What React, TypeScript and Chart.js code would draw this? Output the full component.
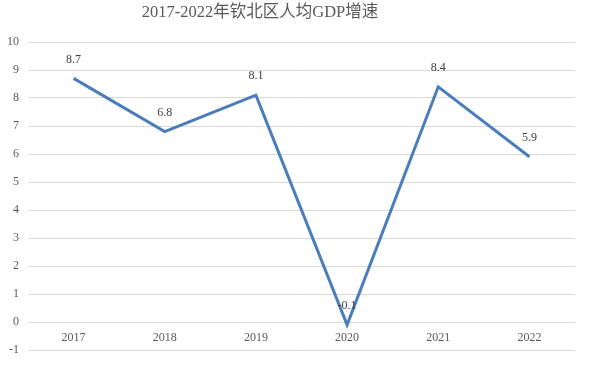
import React, { useEffect, useRef } from "react";
import { Chart, registerables } from "chart.js";

Chart.register(...registerables);

const categories = ["2017", "2018", "2019", "2020", "2021", "2022"];
const growth = [8.7, 6.8, 8.1, -0.1, 8.4, 5.9];
const titleText = "2017-2022年钦北区人均GDP增速";
const yMin = -1;
const yMax = 10;

const FONT = "'Liberation Serif', 'Times New Roman', 'Noto Sans CJK SC', serif";

const dataLabelPlugin = {
  id: "dataLabels",
  afterDatasetsDraw(chart: any) {
    const ctx = chart.ctx;
    const meta = chart.getDatasetMeta(0);
    ctx.save();
    ctx.font = `12px ${FONT}`;
    ctx.fillStyle = "#404040";
    ctx.textAlign = "center";
    ctx.textBaseline = "middle";
    meta.data.forEach((pt: any, i: number) => {
      ctx.fillText(String(growth[i]), pt.x, pt.y - 19);
    });
    ctx.restore();
  },
};

const titlePlugin = {
  id: "offsetTitle",
  afterDraw(chart: any) {
    const ctx = chart.ctx;
    ctx.save();
    ctx.font = `16.5px ${FONT}`;
    ctx.fillStyle = "#595959";
    ctx.textAlign = "center";
    ctx.textBaseline = "middle";
    ctx.fillText(titleText, 260, 13);
    ctx.restore();
  },
};

export default function App() {
  const ref = useRef<HTMLCanvasElement>(null);
  useEffect(() => {
    if (!ref.current) return;
    const chart = new Chart(ref.current, {
      type: "line",
      data: {
        labels: categories,
        datasets: [
          {
            data: growth,
            borderColor: "#4A7EBB",
            borderWidth: 3,
            pointRadius: 0,
            tension: 0,
            fill: false,
          },
        ],
      },
      options: {
        animation: false,
        responsive: false,
        devicePixelRatio: 1,
        layout: { padding: { left: 7, right: 15, top: 42, bottom: 18 } },
        plugins: {
          legend: { display: false },
          tooltip: { enabled: false },
          title: { display: false },
        },
        scales: {
          x: {
            position: { y: 0 } as any,
            offset: true,
            afterFit: (scale: any) => {
              scale.height = 0;
            },
            grid: { display: false, drawTicks: false, tickLength: 0 },
            border: { display: false },
            ticks: {
              color: "#595959",
              font: { family: FONT, size: 12 },
              padding: 9,
              maxRotation: 0,
            },
          },
          y: {
            min: yMin,
            max: yMax,
            afterFit: (scale: any) => {
              scale.width = 21;
            },
            grid: { color: "#D9D9D9", drawTicks: false, lineWidth: 1 },
            border: { display: false },
            ticks: {
              stepSize: 1,
              color: "#595959",
              font: { family: FONT, size: 12 },
              padding: 9,
            },
          },
        },
      },
      plugins: [dataLabelPlugin, titlePlugin],
    });
    return () => chart.destroy();
  }, []);
  return (
    <div style={{ position: "fixed", left: 0, top: 0, width: 590, height: 368, background: "#fff" }}>
      <canvas ref={ref} width={590} height={368} />
    </div>
  );
}
